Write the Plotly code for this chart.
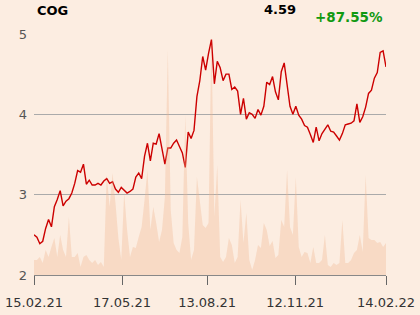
import pandas as pd
import plotly.graph_objects as go

# Price (sampled roughly every 3 days from 15.02.21 to 14.02.22)
price = [
    2.50, 2.47, 2.39, 2.42, 2.58, 2.69, 2.60, 2.85, 2.94, 3.05,
    2.86, 2.92, 2.95, 3.02, 3.14, 3.30, 3.28, 3.38, 3.13, 3.18,
    3.12, 3.12, 3.14, 3.12, 3.17, 3.20, 3.14, 3.16, 3.07, 3.03,
    3.09, 3.05, 3.02, 3.04, 3.07, 3.22, 3.27, 3.20, 3.48, 3.64,
    3.42, 3.64, 3.63, 3.76, 3.57, 3.38, 3.58, 3.58, 3.64, 3.68,
    3.60, 3.52, 3.34, 3.78, 3.70, 3.80, 4.22, 4.42, 4.72, 4.55,
    4.76, 4.93, 4.38, 4.66, 4.58, 4.42, 4.50, 4.50, 4.31, 4.34,
    4.29, 4.00, 4.20, 3.94, 4.02, 4.00, 3.95, 4.06, 3.99, 4.10,
    4.40, 4.37, 4.47, 4.28, 4.18, 4.53, 4.64, 4.40, 4.10, 4.00,
    4.10, 3.99, 3.94, 3.86, 3.84, 3.75, 3.65, 3.84, 3.67, 3.76,
    3.81, 3.87, 3.79, 3.78, 3.73, 3.68, 3.76, 3.87, 3.88, 3.89,
    3.92, 4.13, 3.90, 3.97, 4.09, 4.26, 4.30, 4.45, 4.52, 4.77,
    4.79, 4.59,
]

# Volume (thousands, same sampling)
volume = [
    15, 15, 18, 12, 25, 18, 28, 37, 18, 40,
    25, 18, 58, 18, 18, 22, 8, 18, 20, 15,
    12, 15, 10, 13, 8, 100, 68, 102, 72, 37,
    15, 82, 45, 18, 28, 27, 38, 48, 75, 105,
    45, 68, 52, 33, 45, 78, 225, 65, 32, 25,
    22, 38, 160, 52, 15, 25, 98, 75, 50, 47,
    52, 238, 58, 110, 18, 13, 18, 37, 30, 12,
    18, 75, 32, 62, 15, 5, 15, 30, 27, 52,
    45, 29, 34, 17, 20, 55, 48, 105, 48, 40,
    98, 28, 18, 23, 22, 12, 28, 12, 12, 15,
    40, 10, 8, 12, 10, 12, 55, 12, 12, 15,
    22, 25, 40, 23, 100, 37, 35, 35, 32, 33,
    28, 32,
]

tick_dates = ["2021-02-15", "2021-05-17", "2021-08-13", "2021-11-12", "2022-02-14"]
tick_labels = ["15.02.21", "17.05.21", "13.08.21", "12.11.21", "14.02.22"]
y_ticks = [2, 3, 4, 5]

title = "COG"
last_price = "4.59"
change = "+87.55%"

dates = pd.date_range("2021-02-15", "2022-02-14", periods=len(price))

fig = go.Figure()
fig.add_trace(go.Scatter(
    x=dates, y=volume, yaxis="y2", mode="lines",
    line=dict(width=0, color="rgba(240,180,140,0)"),
    fill="tozeroy", fillcolor="rgba(240,180,140,0.33)",
    hoverinfo="skip", showlegend=False,
))
fig.add_trace(go.Scatter(
    x=dates, y=price, mode="lines",
    line=dict(color="#CC0000", width=1.4),
    showlegend=False,
))

bg = "#FCEDE1"
fig.update_layout(
    width=420, height=315,
    margin=dict(l=34, r=34, t=34, b=40),
    paper_bgcolor=bg, plot_bgcolor=bg,
    font=dict(family="DejaVu Sans", size=13, color="#333333"),
    xaxis=dict(
        range=["2021-02-15", "2022-02-14"],
        tickvals=tick_dates, ticktext=tick_labels,
        showgrid=False, zeroline=False, automargin=False,
        showline=True, linecolor="#888888", linewidth=1,
        ticks="outside", ticklen=9, tickcolor="#666666", tickwidth=1,
        tickfont=dict(size=13, color="#333333"),
        ticklabelstandoff=6,
    ),
    yaxis=dict(
        range=[2, 5], tickvals=y_ticks, automargin=False,
        showgrid=True, gridcolor="#AAAAAA", gridwidth=1,
        zeroline=False, showline=False, ticks="",
        tickfont=dict(size=13, color="#555555"),
        ticklabelstandoff=6,
    ),
    yaxis2=dict(
        range=[0, 241], overlaying="y", side="right", automargin=False,
        showgrid=False, showticklabels=False, zeroline=False, showline=False,
    ),
    annotations=[
        dict(text="<b>%s</b>" % title, xref="paper", yref="paper",
             x=(35 - 34) / 352, y=(275 - 10.5) / 241, xanchor="left", yanchor="middle",
             showarrow=False, font=dict(size=13, color="#000000")),
        dict(text="<b>%s</b>" % last_price, xref="paper", yref="paper",
             x=(297.5 - 34) / 352, y=(275 - 9.8) / 241, xanchor="right", yanchor="middle",
             showarrow=False, font=dict(size=13, color="#000000")),
        dict(text="<b>%s</b>" % change, xref="paper", yref="paper",
             x=(384.5 - 34) / 352, y=(275 - 16.7) / 241, xanchor="right", yanchor="middle",
             showarrow=False, font=dict(size=13.5, color="#119911")),
    ],
)

fig.write_html("out.html")
